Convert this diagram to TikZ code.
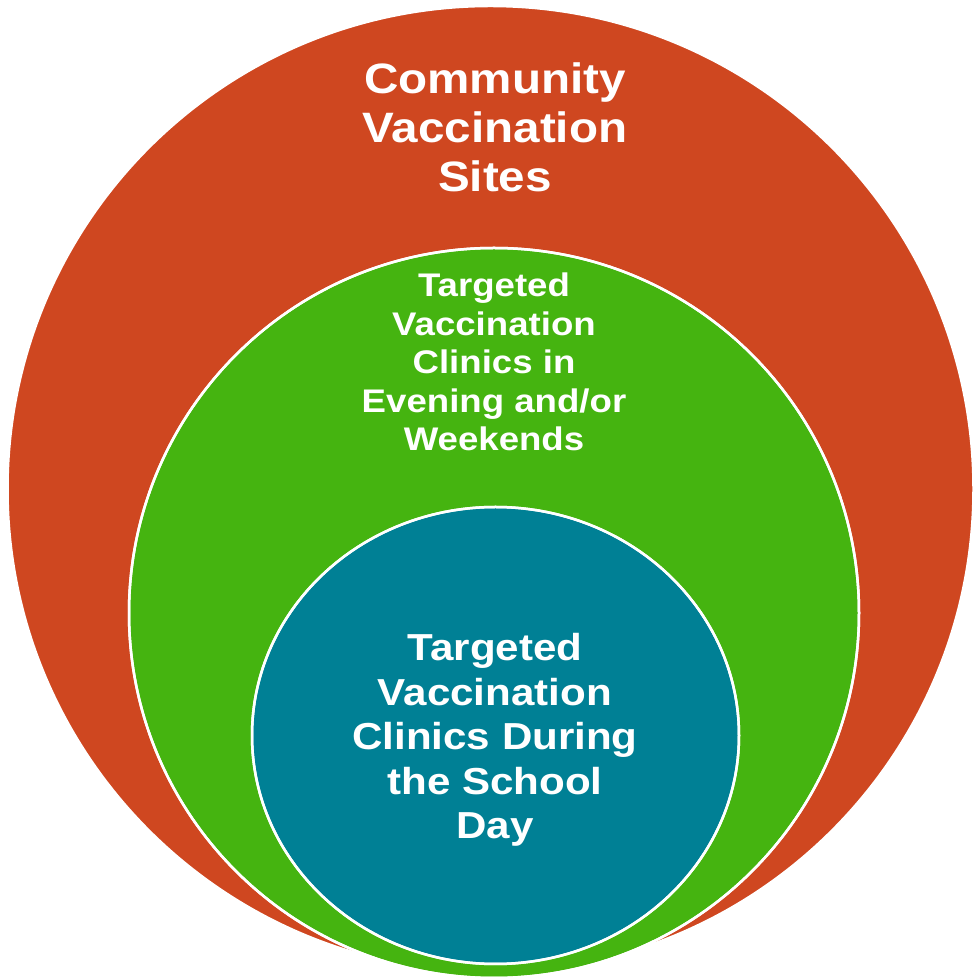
\documentclass[tikz,border=0pt]{standalone}
\usepackage{fontspec}
\setmainfont{Liberation Sans}[FakeStretch=1.12]
\usepackage{tikz}
\usetikzlibrary{positioning}

\definecolor{siteRed}{RGB}{207,71,32}
\definecolor{clinicGreen}{RGB}{69,180,16}
\definecolor{schoolTeal}{RGB}{0,128,149}

\tikzset{
  ring/.style={draw=white,line width=2.5pt},
  ringtext/.style={align=center,text=white,font=\bfseries,inner sep=0pt}
}

\begin{document}
\begin{tikzpicture}[x=1pt,y=1pt]

\useasboundingbox (0,0) rectangle (973,978);

\fill[ring,fill=siteRed] (490.5,489) circle [radius=483pt];
\fill[ring,fill=clinicGreen] (494,365) circle [radius=365pt];
\fill[ring,fill=schoolTeal] (495.5,242.5) ellipse [x radius=243.5pt, y radius=228.5pt];

\begin{scope}[ring]
\draw (494,365) circle [radius=365pt];
\draw (495.5,242.5) ellipse [x radius=243.5pt, y radius=228.5pt];
\end{scope}

\node [ringtext,font=\fontsize{42.5}{49}\selectfont\bfseries] (sites) at (495,851)
  {Community\\Vaccination\\Sites};
\node [ringtext,font=\fontsize{32.7}{38.5}\selectfont\bfseries] (evening) at (494,616)
  {Targeted\\Vaccination\\Clinics in\\Evening and/or\\Weekends};
\node [ringtext,font=\fontsize{37.6}{44.5}\selectfont\bfseries] (school) at (495,238)
  {Targeted\\Vaccination\\Clinics During\\the School\\Day};

\end{tikzpicture}
\end{document}
